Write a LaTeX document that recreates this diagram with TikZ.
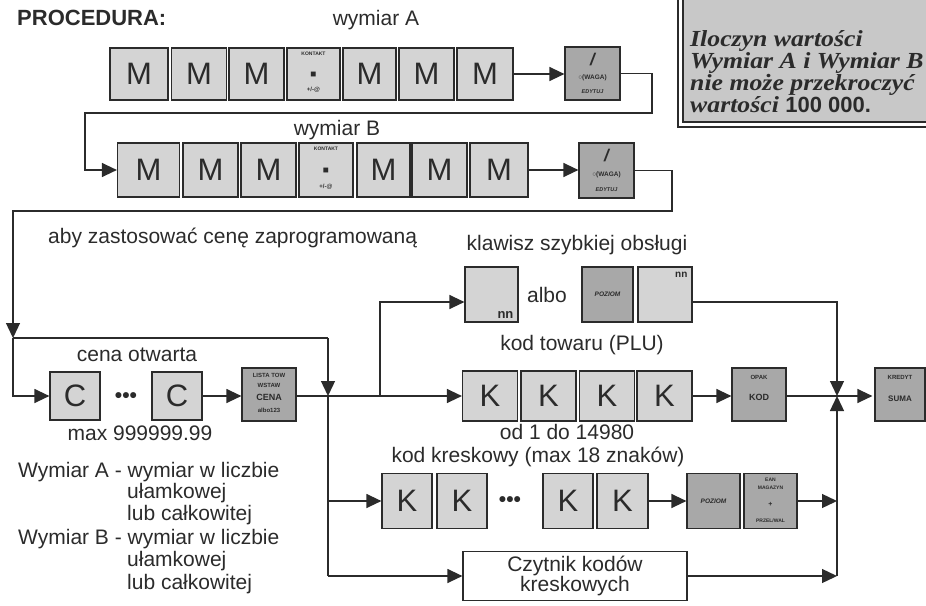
\documentclass[tikz,border=0pt]{standalone}
\usepackage{fontspec}
\setmainfont{Liberation Sans}
\newfontfamily\serifbi[FakeStretch=1.12]{Liberation Serif}
\usetikzlibrary{arrows.meta,calc}
\definecolor{ink}{HTML}{2B2B2B}
\definecolor{keylight}{HTML}{D4D4D4}
\definecolor{keydark}{HTML}{A8A8A8}
\definecolor{notefill}{HTML}{C8C8C8}
\tikzset{
  key/.style={draw=ink, line width=1.2pt, fill=keylight, minimum width=55pt, minimum height=52pt, inner sep=0pt, text=ink, font=\fontsize{31}{31}\selectfont},
  fkey/.style={key, fill=keydark},
  tinyt/.style={inner sep=0pt, text=ink, font=\fontsize{6}{6}\selectfont\bfseries},
  lab/.style={inner sep=0pt, text=ink, font=\fontsize{21}{24}\selectfont},
  notet/.style={anchor=base west, inner sep=0pt, text=ink, font=\serifbi\bfseries\itshape\fontsize{23}{21}\selectfont},
  dotst/.style={inner sep=0pt, text=ink, font=\fontsize{21}{21}\selectfont\bfseries},
  conn/.style={draw=ink, line width=1.3pt},
  arr/.style={conn, -{Triangle[length=15pt,width=14pt]}},
}
\newcommand\kontaktkey[1]{%
  \node[tinyt, font=\fontsize{5}{5}\selectfont\bfseries] at ($(#1.north)+(0,7)$) {KONTAKT};
  \node[inner sep=0pt, text=ink, font=\fontsize{10}{10}\selectfont] at ($(#1.center)+(0,1)$) {■};
  \node[tinyt] at ($(#1.south)+(0,-11)$) {+/-@};}
\newcommand\wagakey[1]{%
  \node[inner sep=0pt, text=ink, font=\fontsize{17}{17}\selectfont\bfseries\itshape] at ($(#1.north)+(0,13)$) {/};
  \node[tinyt, font=\fontsize{6.5}{6.5}\selectfont\bfseries] at ($(#1.center)+(0,4)$) {○(WAGA)};
  \node[tinyt, font=\fontsize{5.5}{5.5}\selectfont\bfseries\itshape] at ($(#1.south)+(0,-9)$) {EDYTUJ};}
\begin{document}
\begin{tikzpicture}[x=1pt,y=-1pt]
\useasboundingbox (0,0) rectangle (926,605);
% note box
\begin{scope}
\clip (0,0) rectangle (926,605);
\fill[notefill] (683,-5) rectangle (940,122);
\draw[ink, line width=1.2pt] (678,-5) |- (940,127);
\draw[ink, line width=1.2pt] (683,-5) |- (940,122);
\node[notet] (n1) at (690,46) {Iloczyn wartości};
\node[notet] (n2) at (690,68) {Wymiar A i Wymiar B};
\node[notet] (n3) at (690,90) {nie może przekroczyć};
\node[notet] (n4) at (690,112) {wartości {\normalfont\bfseries\fontsize{22}{21}\selectfont 100 000.}};
\end{scope}

\node[anchor=base west, inner sep=0pt, text=ink, font=\fontsize{22}{22}\selectfont\bfseries] (proc) at (17,25) {PROCEDURA:};
\node[lab] (wa) at (376,20) {wymiar A};
\node[lab] (wb) at (337,130) {wymiar B};

% row A
\node[key, minimum width=58pt] (a1) at (139,74) {M};
\node[key] (a2) at (199,74) {M};
\node[key] (a3) at (256.5,74) {M};
\node[key, minimum width=53pt, line width=1.6pt] (ak) at (313.5,74) {};
\node[key, minimum width=53pt] (a4) at (369.5,74) {M};
\node[key] (a5) at (426.5,74) {M};
\node[key, minimum width=56pt] (a6) at (485,74) {M};
\node[fkey, minimum height=53pt] (af) at (592.5,73.5) {};
\kontaktkey{ak}
\wagakey{af}

% row B
\node[key, minimum width=62pt, minimum height=54pt] (b1) at (148.5,170) {M};
\node[key, minimum height=54pt] (b2) at (210.5,170) {M};
\node[key, minimum height=54pt] (b3) at (268.5,170) {M};
\node[key, minimum width=54pt, minimum height=54pt, line width=1.6pt] (bk) at (326,170) {};
\node[key, minimum width=53pt, minimum height=54pt] (b4) at (383.5,170) {M};
\node[key, minimum height=54pt] (b5) at (439.5,170) {M};
\node[key, minimum width=58pt, minimum height=54pt] (b6) at (499,170) {M};
\node[fkey, minimum height=55pt] (bf) at (606.5,170.5) {};
\kontaktkey{bk}
\wagakey{bf}

\node[lab, anchor=west] (aby) at (48,238) {aby zastosować cenę zaprogramowaną};

% row C
\node[lab] (co) at (137,355) {cena otwarta};
\node[key, minimum width=50pt, minimum height=48pt] (c1) at (75,396) {C};
\node[dotst] (cd) at (126,398) {•••};
\node[key, minimum width=50pt, minimum height=48pt] (c2) at (177,396) {C};
\node[fkey, minimum width=54pt, minimum height=53pt] (cf) at (269,394.5) {};
\node[tinyt] at ($(cf.north)+(0,8)$) {LISTA TOW};
\node[tinyt] at ($(cf.north)+(0,18)$) {WSTAW};
\node[tinyt, font=\fontsize{9}{9}\selectfont\bfseries] at ($(cf.north)+(0,30)$) {CENA};
\node[tinyt] at ($(cf.north)+(0,43)$) {albo123};
\node[lab] (mx) at (140,433) {max 999999.99};

% quick key branch
\node[lab] (kl) at (577,245) {klawisz szybkiej obsługi};
\node[key, minimum width=53pt, minimum height=55pt] (q1) at (491.5,294.5) {};
\node[inner sep=0pt, text=ink, font=\fontsize{13}{13}\selectfont\bfseries, anchor=south east] at ($(q1.south east)+(-5,-4)$) {nn};
\node[lab] (albo) at (547,295) {albo};
\node[fkey, minimum width=51pt, minimum height=55pt] (q2) at (607.5,294.5) {};
\node[tinyt, font=\fontsize{6.5}{6.5}\selectfont\bfseries\itshape] at (q2.center) {POZIOM};
\node[key, minimum width=54pt, minimum height=55pt] (q3) at (665,294.5) {};
\node[inner sep=0pt, text=ink, font=\fontsize{10}{10}\selectfont\bfseries, anchor=north east] at ($(q3.north east)+(-5,6)$) {nn};

% PLU row
\node[lab] (kt) at (582,345) {kod towaru (PLU)};
\node[key, minimum height=50pt] (p1) at (490,396) {K};
\node[key, minimum height=50pt] (p2) at (548.5,396) {K};
\node[key, minimum height=50pt] (p3) at (607,396) {K};
\node[key, minimum height=50pt] (p4) at (664.5,396) {K};
\node[fkey, minimum width=54pt, minimum height=53pt] (kod) at (759,394.5) {};
\node[tinyt] at ($(kod.north)+(0,10)$) {OPAK};
\node[tinyt, font=\fontsize{9}{9}\selectfont\bfseries] at ($(kod.center)+(0,3)$) {KOD};
\node[fkey, minimum width=50pt, minimum height=53pt] (suma) at (900,394.5) {};
\node[tinyt] at ($(suma.north)+(0,10)$) {KREDYT};
\node[tinyt, font=\fontsize{8}{8}\selectfont\bfseries] at ($(suma.center)+(0,4)$) {SUMA};
\node[lab] (od) at (567,432) {od 1 do 14980};

% barcode row
\node[lab] (kk) at (538,457) {kod kreskowy (max 18 znaków)};
\node[key, minimum width=50pt, minimum height=55pt] (k1) at (407,501) {K};
\node[key, minimum width=50pt, minimum height=55pt] (k2) at (462,501) {K};
\node[dotst] (kd) at (510,502) {•••};
\node[key, minimum width=50pt, minimum height=55pt] (k3) at (568,501) {K};
\node[key, minimum width=51pt, minimum height=55pt] (k4) at (622.5,501) {K};
\node[fkey, minimum width=53pt, minimum height=55pt] (kp) at (713.5,501) {};
\node[tinyt, font=\fontsize{6.5}{6.5}\selectfont\bfseries\itshape] at (kp.center) {POZIOM};
\node[fkey, minimum width=53pt, minimum height=55pt] (ke) at (770.5,501) {};
\node[tinyt, font=\fontsize{5}{5}\selectfont\bfseries] at ($(ke.north)+(0,7)$) {EAN};
\node[tinyt, font=\fontsize{5}{5}\selectfont\bfseries] at ($(ke.north)+(0,15)$) {MAGAZYN};
\node[tinyt, font=\fontsize{7}{7}\selectfont\bfseries] at ($(ke.center)+(0,3)$) {+};
\node[tinyt, font=\fontsize{5}{5}\selectfont\bfseries] at ($(ke.south)+(0,-8)$) {PRZEL/WAL};

% scanner
\node[draw=ink, line width=1.2pt, fill=white, minimum width=224pt, minimum height=49pt, inner sep=0pt, align=center, text=ink, font=\fontsize{21}{20}\selectfont] (cz) at (575,576) {Czytnik kodów\\kreskowych};

% legend
\node[lab, anchor=west] (l1) at (18,472) {Wymiar A - wymiar w liczbie};
\node[lab, anchor=west] (l2) at (127,493) {ułamkowej};
\node[lab, anchor=west] (l3) at (127,515) {lub całkowitej};
\node[lab, anchor=west] (l4) at (18,539) {Wymiar B - wymiar w liczbie};
\node[lab, anchor=west] (l5) at (127,561) {ułamkowej};
\node[lab, anchor=west] (l6) at (127,584) {lub całkowitej};

% coordinates
\coordinate (fa1) at (652,113);
\coordinate (fa2) at (85,113);
\coordinate (fb1) at (672,211);
\coordinate (fb2) at (13,211);
\coordinate (j1) at (13,338);
\coordinate (j2) at (328,338);
\coordinate (j3) at (328,396);
\coordinate (j4) at (328,501);
\coordinate (j5) at (328,576);
\coordinate (t0) at (380,396);
\coordinate (t1) at (380,302);
\coordinate (r1) at (837,302);
\coordinate (r0) at (837,396);
\coordinate (r2) at (837,501);
\coordinate (r3) at (837,576);

% connectors
\draw[arr] (a6.east) -- (af.west |- a6.east);
\draw[arr] (af.east) -| (fa1) -- (fa2) |- (b1.west);
\draw[arr] (b6.east) -- (bf.west |- b6.east);
\draw[arr] (bf.east) -| (fb1) -- (fb2) -- (j1);
\draw[arr] (j1) |- (c1.west);
\draw[conn] (j1) -- (j2);
\draw[arr] (j2) -- (j3);
\draw[arr] (c2.east) -- (cf.west |- c2.east);
\draw[arr] (j3 -| cf.east) -- (p1.west);
\draw[conn] (j3) -- (j5);
\draw[arr] (j4) -- (k1.west);
\draw[arr] (j5) -- (cz.west);
\draw[arr] (t0) -- (t1) -- (t1 -| q1.west);
\draw[arr] (t1 -| q3.east) -- (r1) -- (r0);
\draw[arr] (p4.east) -- (kod.west |- p4.east);
\draw[conn] (r0 -| kod.east) -- (r0);
\draw[arr] (r0) -- ($(suma.west |- r0)+(-2,0)$);
\draw[arr] (k4.east) -- (kp.west);
\draw[arr] (ke.east) -- (r2);
\draw[arr] (cz.east) -- (r3);
\draw[arr] (r3) -- (r0);
\end{tikzpicture}
\end{document}
